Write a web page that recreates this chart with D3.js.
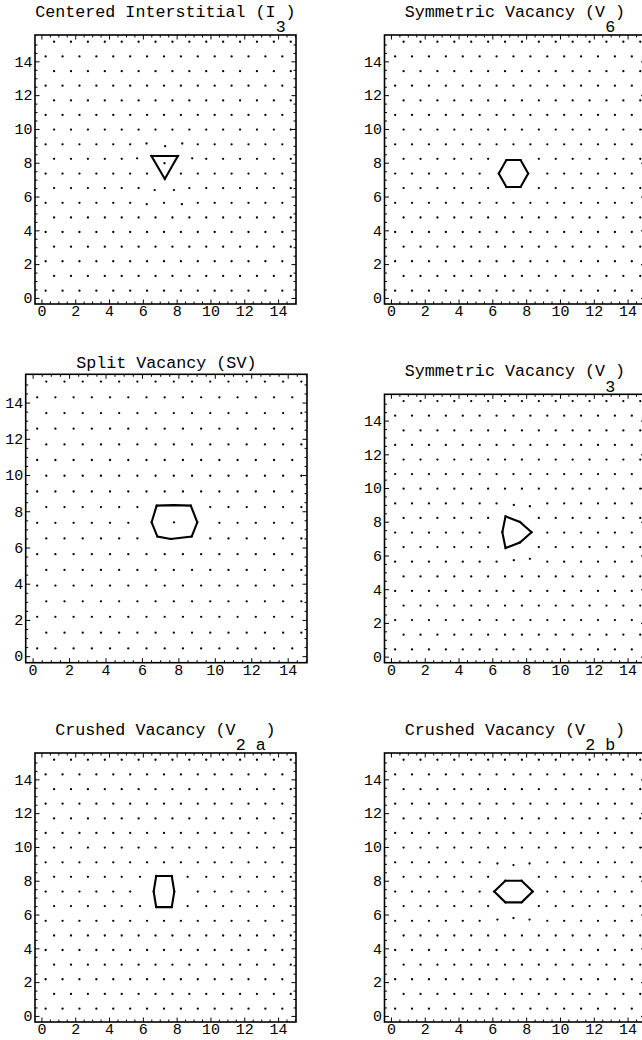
<!DOCTYPE html>
<html>
<head>
<meta charset="utf-8">
<script src="https://cdn.jsdelivr.net/npm/d3@7/dist/d3.min.js"></script>
<style>
  body { margin: 0; background: #fff; }
  svg { display: block; }
</style>
</head>
<body>
<div id="chart"></div>
<script>
// triangular lattice: row heights and the column positions of even / odd rows
const rowY = [0.43, 1.30, 2.17, 3.03, 3.90, 4.76, 5.63, 6.50, 7.36, 8.23, 9.09, 9.96, 10.83, 11.69, 12.56, 13.42, 14.29, 15.16];
const colEven = [0.25, 1.25, 2.25, 3.25, 4.25, 5.25, 6.25, 7.25, 8.25, 9.25, 10.25, 11.25, 12.25, 13.25, 14.25];
const colOdd = [0.75, 1.75, 2.75, 3.75, 4.75, 5.75, 6.75, 7.75, 8.75, 9.75, 10.75, 11.75, 12.75, 13.75, 14.75];

const tickValues = [0, 2, 4, 6, 8, 10, 12, 14];
const minorTickValues = [0.5, 1, 1.5, 2.5, 3, 3.5, 4.5, 5, 5.5, 6.5, 7, 7.5, 8.5, 9, 9.5,
  10.5, 11, 11.5, 12.5, 13, 13.5, 14.5, 15];

// defects: moved atoms are [fromX, fromY, toX, toY]
const i3Added = [[7.28, 7.97]];
const i3Moved = [
  [6.75, 8.23, 6.51, 8.40], [7.75, 8.23, 8.07, 8.40], [7.25, 7.36, 7.30, 7.04],
  [5.75, 8.23, 5.66, 8.26], [8.75, 8.23, 8.92, 8.26],
  [7.25, 9.09, 7.32, 8.98], [6.25, 9.09, 6.22, 9.14], [8.25, 9.09, 8.33, 9.14],
  [6.75, 6.50, 6.70, 6.38], [7.75, 6.50, 7.84, 6.38],
  [6.25, 5.63, 6.23, 5.55], [8.25, 5.63, 8.31, 5.55]
];
const i3Polygon = [[6.51, 8.40], [8.07, 8.40], [7.30, 7.04]];

const v6Removed = [[7.25, 7.36]];
const v6Moved = [
  [6.25, 7.36, 6.38, 7.36], [8.25, 7.36, 8.12, 7.36],
  [6.75, 8.23, 6.83, 8.16], [7.75, 8.23, 7.67, 8.16],
  [6.75, 6.50, 6.83, 6.56], [7.75, 6.50, 7.67, 6.56]
];
const v6Polygon = [[6.38, 7.36], [6.83, 8.16], [7.67, 8.16], [8.12, 7.36], [7.67, 6.56], [6.83, 6.56]];

const svRemoved = [[7.25, 7.36], [8.25, 7.36]];
const svAdded = [[7.76, 7.39]];
const svMoved = [
  [6.25, 7.36, 6.53, 7.39], [9.25, 7.36, 9.04, 7.39],
  [6.75, 8.23, 6.81, 8.31], [7.75, 8.23, 7.74, 8.34], [8.75, 8.23, 8.68, 8.31],
  [6.75, 6.50, 6.85, 6.60], [7.75, 6.50, 7.58, 6.47], [8.75, 6.50, 8.73, 6.60]
];
const svPolygon = [[6.53, 7.39], [6.81, 8.31], [7.74, 8.34], [8.68, 8.31], [9.04, 7.39],
  [8.73, 6.60], [7.58, 6.47], [6.85, 6.60]];

const v3Removed = [[7.25, 7.36]];
const v3Moved = [
  [6.75, 8.23, 6.78, 8.32], [7.75, 8.23, 7.63, 7.99], [8.25, 7.36, 8.32, 7.38],
  [7.75, 6.50, 7.63, 6.77], [6.75, 6.50, 6.78, 6.44], [6.25, 7.36, 6.59, 7.38],
  [7.25, 9.09, 7.27, 9.00], [8.25, 9.09, 8.22, 8.92],
  [7.25, 5.63, 7.27, 5.72], [8.25, 5.63, 8.22, 5.80]
];
const v3Polygon = [[6.78, 8.32], [7.63, 7.99], [8.32, 7.38], [7.63, 6.77], [6.78, 6.44], [6.59, 7.38]];

const v2aRemoved = [[7.25, 7.36]];
const v2aMoved = [
  [6.25, 7.36, 6.64, 7.36], [8.25, 7.36, 7.86, 7.36],
  [6.75, 8.23, 6.79, 8.28], [7.75, 8.23, 7.71, 8.28],
  [6.75, 6.50, 6.79, 6.44], [7.75, 6.50, 7.71, 6.44],
  [5.75, 8.23, 5.83, 8.23], [8.75, 8.23, 8.65, 8.23],
  [5.75, 6.50, 5.83, 6.50], [8.75, 6.50, 8.65, 6.50]
];
const v2aPolygon = [[6.79, 8.28], [7.71, 8.28], [7.86, 7.36], [7.71, 6.44], [6.79, 6.44], [6.64, 7.36]];

const v2bRemoved = [[7.25, 7.36]];
const v2bMoved = [
  [6.25, 7.36, 6.11, 7.36], [8.25, 7.36, 8.39, 7.36],
  [6.75, 8.23, 6.77, 8.00], [7.75, 8.23, 7.73, 8.00],
  [6.75, 6.50, 6.77, 6.72], [7.75, 6.50, 7.73, 6.72],
  [7.25, 9.09, 7.25, 8.93], [6.25, 9.09, 6.30, 9.02], [8.25, 9.09, 8.20, 9.02],
  [7.25, 5.63, 7.25, 5.79], [6.25, 5.63, 6.30, 5.70], [8.25, 5.63, 8.20, 5.70]
];
const v2bPolygon = [[6.11, 7.36], [6.77, 8.00], [7.73, 8.00], [8.39, 7.36], [7.73, 6.72], [6.77, 6.72]];

const panels = [
  { title: "Centered Interstitial (I )", sub: "3", subAt: 24,
    removed: [], added: i3Added, moved: i3Moved, polygon: i3Polygon },
  { title: "Symmetric Vacancy (V )", sub: "6", subAt: 20,
    removed: v6Removed, added: [], moved: v6Moved, polygon: v6Polygon },
  { title: "Split Vacancy (SV)", sub: "", subAt: 0,
    removed: svRemoved, added: svAdded, moved: svMoved, polygon: svPolygon },
  { title: "Symmetric Vacancy (V )", sub: "3", subAt: 20,
    removed: v3Removed, added: [], moved: v3Moved, polygon: v3Polygon },
  { title: "Crushed Vacancy (V   )", sub: "2 a", subAt: 18,
    removed: v2aRemoved, added: [], moved: v2aMoved, polygon: v2aPolygon },
  { title: "Crushed Vacancy (V   )", sub: "2 b", subAt: 18,
    removed: v2bRemoved, added: [], moved: v2bMoved, polygon: v2bPolygon }
];

// frame boxes in pixels: [left, top, right, bottom]
const layout = [
  [35, 35, 296, 304],
  [384.5, 35, 645.5, 304],
  [25.7, 374.3, 307, 662.7],
  [384.5, 394.3, 645.5, 662.7],
  [35, 753, 296, 1022],
  [384.5, 753, 645.5, 1022]
];

const W = 642, H = 1040;
const mono = "'Liberation Mono', 'Courier New', monospace";
const titleSize = 16.7, charW = titleSize * 0.6;

const svg = d3.select("#chart").append("svg")
  .attr("width", W).attr("height", H);

function near(a, b) { return Math.abs(a - b) < 0.05; }

function buildAtoms(p) {
  const atoms = [];
  rowY.forEach(function (y, j) {
    const cols = j % 2 === 0 ? colEven : colOdd;
    cols.forEach(function (x) {
      if (p.removed.some(function (r) { return near(r[0], x) && near(r[1], y); })) return;
      const m = p.moved.find(function (r) { return near(r[0], x) && near(r[1], y); });
      atoms.push(m ? [m[2], m[3]] : [x, y]);
    });
  });
  return atoms.concat(p.added);
}

function drawPanel(p, box) {
  const [left, top, right, bottom] = box;
  const x = d3.scaleLinear().domain([-0.38, 15.06]).range([left, right]);
  const y = d3.scaleLinear().domain([-0.36, 15.56]).range([bottom, top]);
  const g = svg.append("g");

  // frame
  g.append("rect")
    .attr("x", left).attr("y", top)
    .attr("width", right - left).attr("height", bottom - top)
    .attr("fill", "none").attr("stroke", "#000").attr("stroke-width", 1.6);

  // major ticks with labels, minor ticks, on all four sides (inward)
  const axes = [
    [d3.axisBottom(x), bottom, true, "x"], [d3.axisTop(x), top, false, "x"],
    [d3.axisLeft(y), left, true, "y"], [d3.axisRight(y), right, false, "y"]
  ];
  axes.forEach(function (a) {
    const axis = a[0], pos = a[1], labelled = a[2], dir = a[3];
    const tr = dir === "x" ? "translate(0," + pos + ")" : "translate(" + pos + ",0)";
    const major = g.append("g").attr("transform", tr)
      .call(axis.tickValues(tickValues).tickSize(-4.5)
        .tickPadding(dir === "x" ? 1.5 : 2.5)
        .tickFormat(labelled ? d3.format("d") : ""));
    const minor = g.append("g").attr("transform", tr)
      .call(axis.tickValues(minorTickValues).tickSize(-2.5).tickFormat(""));
    [major, minor].forEach(function (s) {
      s.select(".domain").remove();
      s.selectAll("line").attr("stroke", "#000").attr("stroke-width", 1);
    });
    major.selectAll("text")
      .attr("font-family", mono).attr("font-size", "15px").attr("fill", "#000");
  });

  // atoms
  g.append("g").selectAll("circle")
    .data(buildAtoms(p))
    .enter().append("circle")
    .attr("cx", function (d) { return x(d[0]); })
    .attr("cy", function (d) { return y(d[1]); })
    .attr("r", 1.15)
    .attr("fill", "#000");

  // defect outline
  g.append("path")
    .attr("d", d3.line().x(function (d) { return x(d[0]); }).y(function (d) { return y(d[1]); })
      .curve(d3.curveLinearClosed)(p.polygon))
    .attr("fill", "none").attr("stroke", "#000").attr("stroke-width", 2.1)
    .attr("stroke-linejoin", "miter");

  // title with subscript on a lower line
  const cx = (left + right) / 2;
  const start = cx - p.title.length * charW / 2;
  g.append("text")
    .attr("x", start).attr("y", p.sub ? top - 18.5 : top - 6)
    .attr("font-family", mono).attr("font-size", titleSize + "px")
    .attr("xml:space", "preserve").style("white-space", "pre")
    .text(p.title);
  if (p.sub) {
    g.append("text")
      .attr("x", start + p.subAt * charW).attr("y", top - 2.7)
      .attr("font-family", mono).attr("font-size", titleSize + "px")
      .style("white-space", "pre")
      .text(p.sub);
  }
}

panels.forEach(function (p, i) { drawPanel(p, layout[i]); });
</script>
</body>
</html>
